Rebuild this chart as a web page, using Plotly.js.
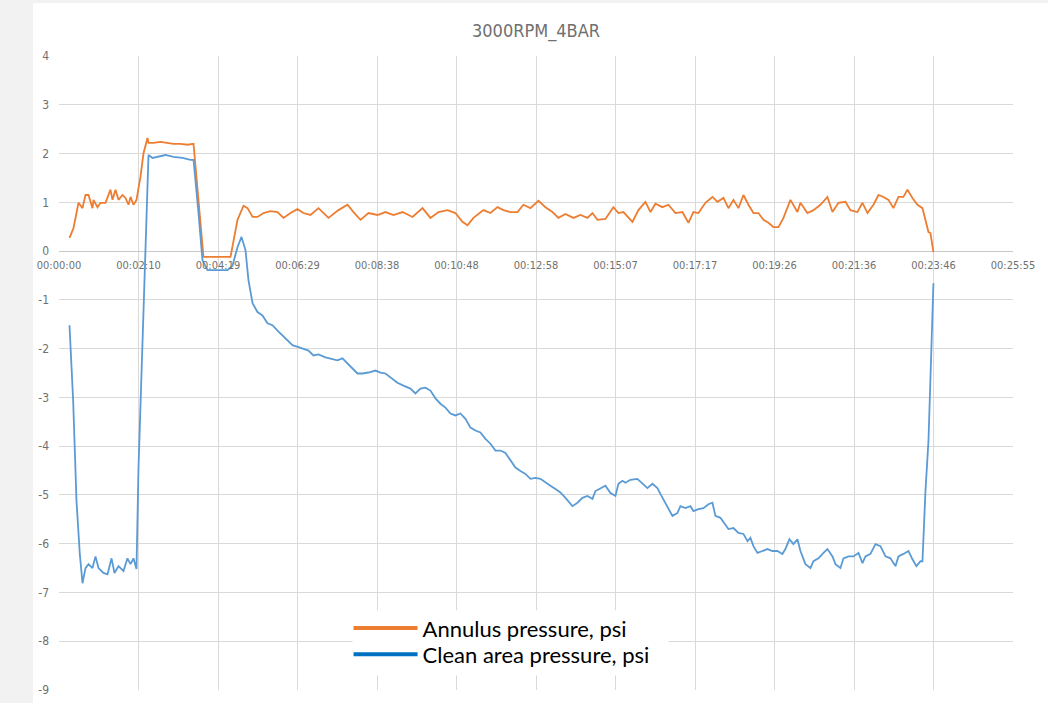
<!DOCTYPE html>
<html>
<head>
<meta charset="utf-8">
<script src="https://cdn.plot.ly/plotly-3.0.1.min.js"></script>
<style>
  html, body { margin: 0; padding: 0; background: #f2f2f2; width: 1048px; height: 703px; overflow: hidden; }
  #plot { position: absolute; left: 33px; top: 3px; width: 1015px; height: 700px; background: #fff; }
</style>
</head>
<body>
<div id="plot"></div>
<script>
// ---- data (time in seconds from 00:00:00, pressure in psi) ----
const annulusTime = [17.1,23.6,31.8,38.3,43.2,48.1,54.6,56.2,62.8,67.6,75.8,83.9,87.2,92.1,97.0,103.5,108.4,113.3,116.6,121.4,126.3,132.8,137.7,144.2,145.9,154.0,165.5,176.9,186.7,198.1,209.5,219.3,225.8,235.5,279.6,291.0,300.8,307.3,315.5,323.6,333.4,344.7,356.2,366.0,377.4,388.8,398.5,410.0,423.0,439.3,455.6,470.3,480.1,491.5,504.5,519.2,532.2,545.3,560.0,576.3,592.6,605.6,618.6,633.3,646.3,657.7,665.9,675.6,691.9,703.3,714.8,724.5,735.9,747.4,757.1,768.5,781.6,793.0,804.4,814.2,825.6,838.6,850.0,861.5,869.6,877.8,890.8,903.8,912.0,920.1,934.8,944.6,956.0,964.2,972.3,983.7,993.5,1004.9,1016.3,1026.1,1034.2,1042.4,1053.8,1065.2,1073.4,1083.2,1091.3,1099.5,1107.6,1115.8,1123.9,1132.1,1140.2,1148.4,1156.5,1164.7,1172.8,1181.0,1192.4,1203.8,1208.7,1220.1,1229.9,1241.3,1252.7,1260.9,1270.7,1282.1,1290.2,1301.6,1309.8,1318.0,1327.7,1335.9,1344.0,1352.2,1360.3,1368.5,1376.6,1383.1,1391.3,1399.4,1407.6,1412.5,1417.4,1420.6,1425.5];
const annulusPsi = [0.27,0.47,0.99,0.88,1.15,1.15,0.88,1.05,0.90,0.99,0.99,1.26,1.05,1.26,1.05,1.15,1.09,0.95,1.11,0.95,1.05,1.52,2.00,2.32,2.22,2.22,2.24,2.22,2.20,2.20,2.18,2.20,1.32,-0.12,-0.12,0.64,0.93,0.88,0.70,0.70,0.78,0.82,0.80,0.68,0.78,0.86,0.78,0.74,0.88,0.68,0.84,0.95,0.80,0.64,0.78,0.74,0.80,0.74,0.80,0.70,0.88,0.68,0.80,0.84,0.78,0.60,0.53,0.68,0.84,0.78,0.90,0.84,0.80,0.80,0.95,0.88,1.03,0.90,0.80,0.68,0.76,0.68,0.74,0.68,0.78,0.64,0.66,0.90,0.78,0.80,0.60,0.84,1.01,0.80,0.97,0.90,0.95,0.78,0.80,0.58,0.80,0.78,0.99,1.11,1.01,1.09,0.88,1.05,0.88,1.15,0.95,0.78,0.78,0.64,0.58,0.49,0.49,0.68,1.05,0.80,0.99,0.78,0.84,0.95,1.11,0.80,0.99,1.01,0.84,0.80,0.99,0.78,0.95,1.15,1.11,1.05,0.88,1.11,1.11,1.26,1.09,0.95,0.88,0.64,0.39,0.37,-0.02];

const cleanTime = [17.1,23.1,28.5,33.9,38.3,43.2,48.1,54.6,59.5,64.4,72.5,79.1,85.6,90.5,97.0,105.1,111.6,116.6,121.4,126.3,129.6,134.5,137.7,145.9,152.4,160.6,173.6,186.7,201.3,214.3,219.3,227.4,233.9,242.1,258.4,274.7,282.8,291.0,297.5,304.0,308.9,315.5,323.6,331.7,339.9,348.0,356.2,364.3,372.5,380.6,390.4,398.5,406.7,414.8,423.0,434.4,442.5,453.9,462.1,470.3,478.4,486.6,494.7,504.5,515.9,524.0,532.2,540.3,551.7,561.5,572.9,581.1,589.2,597.4,605.5,613.7,621.8,630.0,638.1,646.3,654.4,662.6,670.7,678.9,687.0,695.2,703.3,711.5,719.6,727.8,735.9,744.1,752.2,760.4,768.5,776.7,784.8,793.0,801.1,809.3,817.4,825.6,837.0,845.2,853.3,861.5,869.6,874.5,882.6,890.8,899.0,907.1,912.0,918.5,923.4,931.5,942.9,951.1,959.2,967.4,975.5,980.4,988.6,993.5,1000.0,1008.2,1013.0,1021.2,1029.3,1034.2,1042.4,1050.5,1058.7,1065.2,1070.1,1078.2,1086.4,1091.3,1099.5,1107.6,1115.8,1122.3,1127.1,1132.1,1138.6,1146.7,1154.9,1163.0,1171.2,1179.3,1184.2,1190.7,1197.2,1203.8,1208.7,1216.8,1225.0,1229.9,1238.0,1246.2,1252.7,1260.9,1265.8,1273.9,1278.8,1287.0,1295.1,1303.3,1309.8,1314.7,1322.8,1331.0,1339.1,1347.3,1355.4,1363.6,1368.5,1376.6,1384.8,1391.3,1397.8,1404.4,1407.6,1412.5,1417.4,1425.5];
const cleanPsi = [-1.52,-3.07,-5.12,-6.21,-6.81,-6.50,-6.42,-6.50,-6.26,-6.50,-6.60,-6.63,-6.30,-6.60,-6.46,-6.56,-6.30,-6.42,-6.30,-6.52,-4.44,-2.38,-1.00,1.97,1.91,1.93,1.97,1.93,1.91,1.87,1.87,0.78,-0.19,-0.39,-0.39,-0.39,-0.30,0.08,0.29,0.02,-0.60,-1.07,-1.25,-1.32,-1.48,-1.52,-1.63,-1.73,-1.83,-1.93,-1.97,-2.00,-2.04,-2.14,-2.12,-2.18,-2.20,-2.24,-2.20,-2.30,-2.41,-2.51,-2.51,-2.49,-2.45,-2.49,-2.51,-2.59,-2.70,-2.76,-2.82,-2.92,-2.82,-2.80,-2.86,-3.02,-3.13,-3.21,-3.33,-3.37,-3.33,-3.44,-3.62,-3.68,-3.72,-3.85,-3.95,-4.09,-4.09,-4.14,-4.30,-4.44,-4.51,-4.57,-4.67,-4.65,-4.67,-4.75,-4.81,-4.88,-4.95,-5.06,-5.23,-5.16,-5.06,-5.02,-5.08,-4.92,-4.86,-4.81,-4.96,-5.02,-4.77,-4.71,-4.75,-4.69,-4.67,-4.77,-4.86,-4.77,-4.86,-4.98,-5.16,-5.29,-5.43,-5.37,-5.23,-5.27,-5.23,-5.33,-5.29,-5.27,-5.19,-5.16,-5.43,-5.47,-5.60,-5.70,-5.68,-5.78,-5.80,-5.95,-5.88,-6.05,-6.19,-6.15,-6.11,-6.15,-6.15,-6.21,-6.11,-5.91,-6.01,-5.91,-6.15,-6.42,-6.50,-6.36,-6.30,-6.19,-6.11,-6.26,-6.42,-6.50,-6.30,-6.26,-6.26,-6.19,-6.40,-6.26,-6.21,-6.01,-6.05,-6.26,-6.30,-6.46,-6.26,-6.21,-6.15,-6.32,-6.46,-6.36,-6.36,-4.92,-3.89,-0.66];

const xTickVals = [0,129.6,259.2,388.8,518.4,648,777.6,907.2,1036.8,1166.4,1296,1425.6,1555.2];
const xTickText = ["00:00:00","00:02:10","00:04:19","00:06:29","00:08:38","00:10:48","00:12:58","00:15:07","00:17:17","00:19:26","00:21:36","00:23:46","00:25:55"];
const yTickVals = [4,3,2,1,0,-1,-2,-3,-4,-5,-6,-7,-8,-9];
const yTickText = ["4","3","2","1","0","-1","-2","-3","-4","-5","-6","-7","-8","-9"];
const seriesNames = ["Annulus pressure, psi", "Clean area pressure, psi"];
const chartTitle = "3000RPM_4BAR";

const axisFont = {family: "'Liberation Sans Narrow', 'DejaVu Sans Condensed', Arial, sans-serif", size: 11, color: "#707070"};
const legendFont = {family: "Lato, 'Open Sans', sans-serif", size: 22, color: "#000000"};
const yMin = -9, yMax = 4;

const traces = [
  {x: annulusTime, y: annulusPsi, type: "scatter", mode: "lines", line: {color: "#ED7D31", width: 1.8}, showlegend: false, hoverinfo: "skip"},
  {x: cleanTime, y: cleanPsi, type: "scatter", mode: "lines", line: {color: "#5B9BD5", width: 1.8}, showlegend: false, hoverinfo: "skip"},
  {x: [null], y: [null], type: "scatter", mode: "lines", name: seriesNames[0], legend: "legend", line: {color: "#ED7D31", width: 4}},
  {x: [null], y: [null], type: "scatter", mode: "lines", name: seriesNames[1], legend: "legend2", line: {color: "#0070C0", width: 4}}
];

const layout = {
  width: 1015, height: 700,
  margin: {l: 26, r: 35, t: 53, b: 13},
  paper_bgcolor: "#ffffff", plot_bgcolor: "#ffffff",
  title: {text: chartTitle, x: 0.5, xref: "paper", xanchor: "center", y: 0.96, yref: "container", yanchor: "middle",
          font: {family: "'Liberation Sans Narrow', 'DejaVu Sans Condensed', Arial, sans-serif", size: 18, color: "#707070"}},
  xaxis: {
    range: [0, 1555.2], tickmode: "array", tickvals: xTickVals, ticktext: xTickText,
    showgrid: true, gridcolor: "#d9d9d9", gridwidth: 1, zeroline: false, showline: false,
    ticks: "", anchor: "free", position: (0 - yMin) / (yMax - yMin),
    tickfont: axisFont, ticklabelstandoff: 6, fixedrange: true
  },
  yaxis: {
    range: [yMin, yMax], tickmode: "array", tickvals: yTickVals, ticktext: yTickText,
    showgrid: true, gridcolor: "#d9d9d9", gridwidth: 1,
    zeroline: true, zerolinecolor: "#c9c9c9", zerolinewidth: 1,
    ticks: "", tickfont: Object.assign({}, axisFont, {size: 12}), ticklabelstandoff: 9, fixedrange: true
  },
  // white box behind the legend (covers gridlines like the original legend area)
  shapes: [{type: "rect", xref: "paper", yref: "paper", x0: 0.3077, x1: 0.639, y0: 0.023, y1: 0.1258,
            fillcolor: "#ffffff", line: {width: 0}, layer: "above"}],
  legend: {
    x: 0.3035, y: 0.0975, xanchor: "left", yanchor: "middle", bgcolor: "rgba(0,0,0,0)", borderwidth: 0,
    itemwidth: 64, font: legendFont
  },
  legend2: {
    x: 0.3035, y: 0.056, xanchor: "left", yanchor: "middle", bgcolor: "rgba(0,0,0,0)", borderwidth: 0,
    itemwidth: 64, font: legendFont
  },
  showlegend: true
};

Plotly.newPlot("plot", traces, layout, {displayModeBar: false, staticPlot: true});
</script>
</body>
</html>
